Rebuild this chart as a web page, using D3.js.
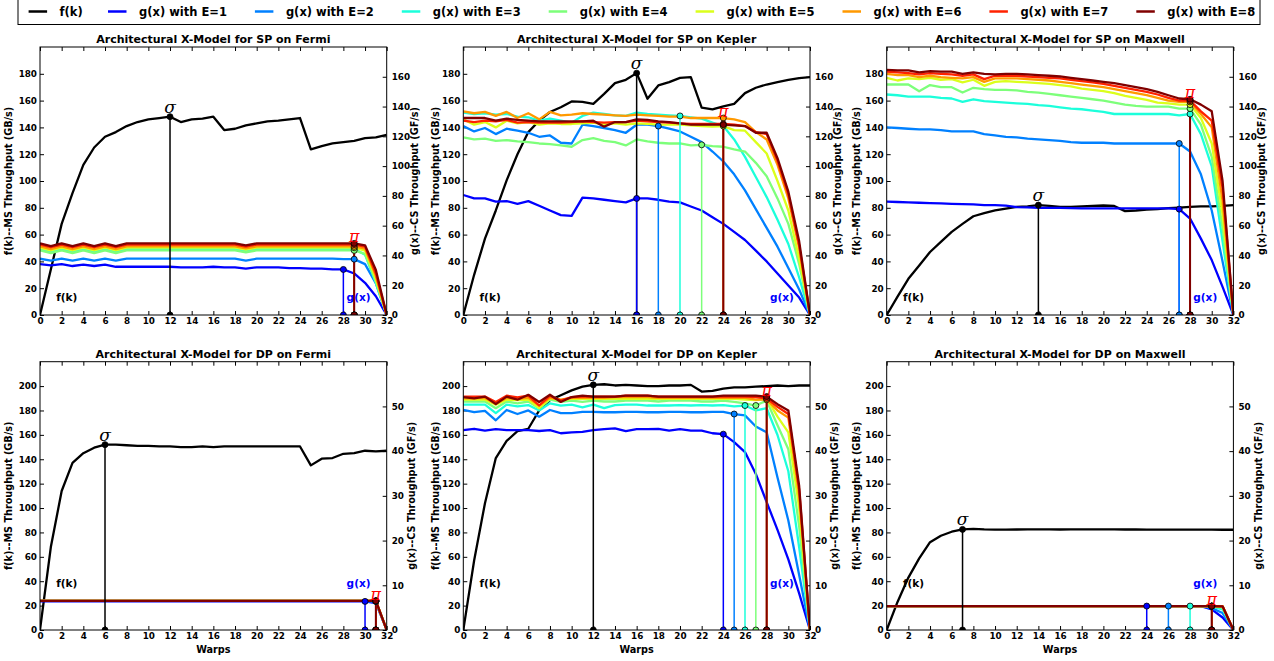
<!DOCTYPE html>
<html>
<head>
<meta charset="utf-8">
<script src="https://cdn.jsdelivr.net/npm/d3@7"></script>
<style>
  body { margin: 0; background: #fff; }
  text { font-family: "DejaVu Sans", sans-serif; font-weight: bold; }
  text.sym { font-family: "DejaVu Serif", serif; font-style: italic; font-weight: normal; }
</style>
</head>
<body>
<svg id="chart" width="1274" height="661"></svg>
<script>
// === Data ===
// x values (warps) shared by every curve
const warps = [0,1,2,3,4,5,6,7,8,9,10,11,12,13,14,15,16,17,18,19,20,21,22,23,24,25,26,27,28,29,30,31,32];
const xTicks = [0,2,4,6,8,10,12,14,16,18,20,22,24,26,28,30,32];
const seriesNames = ["g(x) with E=1","g(x) with E=2","g(x) with E=3","g(x) with E=4",
                     "g(x) with E=5","g(x) with E=6","g(x) with E=7","g(x) with E=8"];
const seriesColors = ["#0000ff","#0080ff","#1cffdb","#7dff7a","#dbff1c","#ff9900","#ff2200","#800000"];

// f(k) in GB/s (left axis), g(x) in GF/s (right axis)
const spFermiF = [0,34,68,91,112,125,133,136.5,141,144,146,147,148,144,146,146.5,148,138,139,141.5,143,144.5,145,146,147,123.6,126,128,129,130,132,132.5,134.5];
const spFermiG = [
  [34.2,33.3,34.2,32.9,33.8,32.9,33.8,32.4,32.4,32.4,32.4,32.4,32.4,32,32,32,32.4,32,32,31.1,32,32,32,31.5,31.5,31.1,31.1,30.6,30.6,27.9,21.6,12.6,0],
  [37.8,36.5,37.8,36.5,37.8,36.5,37.8,36.5,37.8,37.8,37.8,37.8,37.8,37.8,37.8,37.8,37.8,37.8,37.8,36.5,37.8,37.8,37.8,37.8,37.8,37.8,37.8,37.8,37.5,37.5,34.2,21.2,0],
  [44.3,42.5,44.3,42.5,44.3,42.5,44.3,42.5,44.3,44.3,44.3,44.3,44.3,44.3,44.3,44.3,44.3,44.3,44.3,43.0,44.3,44.3,44.3,44.3,44.3,44.3,44.3,44.3,44.3,44.3,40.5,21.6,0],
  [43.4,41.6,43.4,41.6,43.4,41.6,43.4,41.6,43.4,43.4,43.4,43.4,43.4,43.4,43.4,43.4,43.4,43.4,43.4,42.1,43.4,43.4,43.4,43.4,43.4,43.4,43.4,43.4,43.4,43.4,41.0,22.5,0],
  [45.2,43.4,45.2,43.4,45.2,43.4,45.2,43.4,45.2,45.2,45.2,45.2,45.2,45.2,45.2,45.2,45.2,45.2,45.2,43.9,45.2,45.2,45.2,45.2,45.2,45.2,45.2,45.2,45.2,45.2,43.2,24.3,0],
  [46.1,44.3,46.1,44.3,46.1,44.3,46.1,44.3,46.1,46.1,46.1,46.1,46.1,46.1,46.1,46.1,46.1,46.1,46.1,44.8,46.1,46.1,46.1,46.1,46.1,46.1,46.1,46.1,46.1,46.1,44.6,26.1,0],
  [47.3,45.5,47.3,45.5,47.3,45.5,47.3,45.5,47.3,47.3,47.3,47.3,47.3,47.3,47.3,47.3,47.3,47.3,47.3,46.0,47.3,47.3,47.3,47.3,47.3,47.3,47.3,47.3,47.3,47.3,45.9,27.9,0],
  [48.1,46.3,48.1,46.3,48.1,46.3,48.1,46.3,48.1,48.1,48.1,48.1,48.1,48.1,48.1,48.1,48.1,48.1,48.1,46.8,48.1,48.1,48.1,48.1,48.1,48.1,48.1,48.1,48.1,48.1,46.8,30.2,0]
];
const spFermiKnee = [28,29,29,29,29,29,29,29];
const spFermiSigma = 12;

const spKeplerF = [0,30,57,78,100.5,120,136.5,145,151.5,155,159.4,159,157.6,165,173,175.5,180.5,161.4,171.3,173.8,177,177.5,154.7,153.4,155.7,157.6,165.6,169.6,172,173.8,175.5,176.8,177.5];
const spKeplerG = [
  [80.6,78.3,78.3,76.1,76.5,74.7,76.5,73.4,70.2,67.1,66.6,78.8,78.3,77.4,76.5,75.6,78.3,78.3,77.4,76.1,75.6,72.9,70.2,65.7,61.2,55.8,50.4,43.2,36,27.9,19.8,11.7,0],
  [126.9,123.3,125.6,121.5,125.1,123.8,122.4,119.7,120.6,115.7,115.2,127.8,126.9,125.6,124.2,122.4,127.8,127.8,126.9,125.1,123.3,119.7,116.1,109.8,103.1,94.5,83.7,71.1,58.5,45.9,31.5,17.1,0],
  [135.9,135,135.5,134.6,135,133.2,132.8,130.5,131.9,130.5,129.2,133.7,135.9,135,134.1,133.7,135.9,135,134.6,134.1,133.7,132.8,131.9,129.2,126.9,117.9,106.2,92.7,79.2,63.9,47.7,25.2,0],
  [119.3,117.9,118.4,117,117.5,116.6,116.1,115.2,114.8,113.9,113,117.5,118.8,117,116.1,113.9,117.9,116.6,115.7,115.2,115.2,113.9,114.3,113.4,113,111.2,109.8,102.2,93.2,78.3,61.2,34.2,0],
  [131.4,127.8,129.6,126,130.5,128.7,129.6,127.8,128.7,128.3,128.3,128.7,129.2,127.8,128.7,127.8,128.7,128.3,127.8,127.8,127.8,127.4,126.9,126.5,126.9,124.2,123.8,116.1,108.5,90,70.2,37.8,0],
  [136.8,135.5,136.4,133.7,136.4,132.3,135.5,131.4,136.4,134.1,134.6,135.5,135,134.6,134.1,133.7,134.6,134.1,133.7,133.2,133.2,132.3,132.3,132.3,132.3,131.4,129.6,122.9,117.9,100.8,78.3,45,0],
  [130.5,129.6,130.5,130.1,131,129.2,129.6,129.2,129.2,129.2,129.6,130.1,129.6,129.2,129.6,129.6,130.5,130.1,129.6,129.2,128.7,128.3,128.3,128.3,128.3,127.8,126.9,122.9,121.5,103.5,81,46.8,0],
  [132.3,132.3,132.3,130.5,131.9,131,130.5,130.1,130.1,130.1,130.1,130.1,130.5,126.5,129.6,129.6,131.4,131,130.1,129.6,128.7,127.8,127.8,127.8,127.8,127.4,126.9,122.4,122.4,105.3,82.8,49.5,0]
];
const spKeplerKnee = [16,18,20,22,24,24,24,24];
const spKeplerSigma = 16;

const spMaxwellF = [0,13.7,27,37,47,54.6,62,68,73.7,76,78,79.4,80.7,81,82,81.4,80.7,80.7,81,81.4,81.7,81.4,77.5,78,78.7,79,79.7,80.2,80.7,81,81,81.4,82];
const spMaxwellG = [
  [76.1,75.9,75.6,75.4,75.2,75,74.7,74.5,74.3,73.8,73.8,73.4,72.5,72.3,72,72,72,71.8,71.6,71.6,71.6,71.6,71.6,71.6,71.6,71.6,71.6,71.1,64.8,51.3,36.9,18.9,0],
  [126,125.6,125.1,124.7,124.7,124.2,123.3,123.3,123.3,121.5,120.6,119.7,119.3,118.4,117.9,117.5,117,116.1,115.7,115.7,115.7,115.2,115.2,115.2,115.2,115.2,115.2,115.2,109.8,94.5,70.2,36,0],
  [148.1,147.6,146.7,146.7,146.7,145.8,145.4,143.1,144.9,143.6,143.1,142.7,142.2,141.8,140.9,140.4,139.5,138.6,138.2,137.3,136.4,135,135,135,135,135,135,134.1,135,121.5,99.9,49.5,0],
  [154.8,154.8,154.8,150.3,154.4,153,153,149.4,152.6,151.7,151.2,151.2,150.8,149.9,149.4,148.5,147.6,146.7,145.8,144.9,144,142.7,141.3,140.4,140,140,140,138.6,138.6,127.8,106.2,58.5,0],
  [159.3,157.5,158.9,158.4,159.3,158,158.4,156.2,158,153.9,156.6,157.1,156.6,156.2,155.7,155.3,154.4,153.5,152.1,151.2,150.3,149,147.2,145.8,144.5,142.7,142.2,141.3,141.3,132.3,115.2,67.5,0],
  [162,161.1,161.1,159.8,160.7,159.8,159.3,158.9,159.8,156.6,158.9,158.9,158.9,158.4,158,157.5,156.6,155.7,154.8,153.9,153,151.7,150.3,149,147.6,145.8,144,143.1,143.1,135,126,76.5,0],
  [163.4,162.9,162.5,161.6,162.5,162,161.6,160.7,161.6,158.4,160.7,160.7,160.7,160.2,159.8,159.3,158.9,158,157.1,156.2,155.3,153.9,152.6,151.2,149.9,148.1,145.8,144,144,136.8,130.5,85.5,0],
  [164.7,164.3,164.3,162.9,163.8,163.4,163.4,162,162.9,162,161.6,162,162,161.6,161.1,160.7,160.2,159.3,158.4,157.5,156.6,155.7,154.4,153,151.7,149.9,147.6,145.4,144.9,141.3,136.8,90,0]
];
const spMaxwellKnee = [27,27,28,28,28,28,28,28];
const spMaxwellSigma = 14;

const dpFermiF = [0,68,114,137,145,149.5,152,152,151.5,151,151,150.5,150.5,150,150,150.5,150,150.5,150.5,150.5,150.5,150.5,150.5,150.5,150.5,135,140.5,141,144.5,145,147,146.5,147];
const dpFermiG = [
  [6.4,6.4,6.4,6.4,6.4,6.4,6.4,6.4,6.4,6.4,6.4,6.4,6.4,6.4,6.4,6.4,6.4,6.4,6.4,6.4,6.4,6.4,6.4,6.4,6.4,6.4,6.4,6.4,6.4,6.4,6.4,6.0,0],
  [6.5,6.5,6.5,6.5,6.5,6.5,6.5,6.5,6.5,6.5,6.5,6.5,6.5,6.5,6.5,6.5,6.5,6.5,6.5,6.5,6.5,6.5,6.5,6.5,6.5,6.5,6.5,6.5,6.5,6.5,6.5,6.4,0],
  [6.5,6.5,6.5,6.5,6.5,6.5,6.5,6.5,6.5,6.5,6.5,6.5,6.5,6.5,6.5,6.5,6.5,6.5,6.5,6.5,6.5,6.5,6.5,6.5,6.5,6.5,6.5,6.5,6.5,6.5,6.5,6.4,0],
  [6.5,6.5,6.5,6.5,6.5,6.5,6.5,6.5,6.5,6.5,6.5,6.5,6.5,6.5,6.5,6.5,6.5,6.5,6.5,6.5,6.5,6.5,6.5,6.5,6.5,6.5,6.5,6.5,6.5,6.5,6.5,6.5,0],
  [6.5,6.5,6.5,6.5,6.5,6.5,6.5,6.5,6.5,6.5,6.5,6.5,6.5,6.5,6.5,6.5,6.5,6.5,6.5,6.5,6.5,6.5,6.5,6.5,6.5,6.5,6.5,6.5,6.5,6.5,6.5,6.5,0],
  [6.5,6.5,6.5,6.5,6.5,6.5,6.5,6.5,6.5,6.5,6.5,6.5,6.5,6.5,6.5,6.5,6.5,6.5,6.5,6.5,6.5,6.5,6.5,6.5,6.5,6.5,6.5,6.5,6.5,6.5,6.5,6.5,0],
  [6.5,6.5,6.5,6.5,6.5,6.5,6.5,6.5,6.5,6.5,6.5,6.5,6.5,6.5,6.5,6.5,6.5,6.5,6.5,6.5,6.5,6.5,6.5,6.5,6.5,6.5,6.5,6.5,6.5,6.5,6.5,6.5,0],
  [6.5,6.5,6.5,6.5,6.5,6.5,6.5,6.5,6.5,6.5,6.5,6.5,6.5,6.5,6.5,6.5,6.5,6.5,6.5,6.5,6.5,6.5,6.5,6.5,6.5,6.5,6.5,6.5,6.5,6.5,6.5,6.5,0]
];
const dpFermiKnee = [30,31,31,31,31,31,31,31];
const dpFermiSigma = 6;

const dpKeplerF = [0,57,104,141,155,163,165,180,188.5,192.5,196.5,199.5,201,201.5,200.5,201,200.5,200,200,200.5,200.5,201,195.5,196,198,199,199,199.5,200,200.5,200,200.5,200.5];
const dpKeplerG = [
  [44.7,45,44.6,44.9,44.7,44.7,44.7,44.5,44.7,44,44.2,44.3,44.7,44.9,45.1,44.5,44.9,44.9,45,44.6,44.9,44.6,44.6,44,43.8,42,39.8,34.9,28.6,22.4,15.8,8.2,0],
  [49.2,48.7,49,46.9,49.2,48.3,49.1,47.7,49.2,48.5,48.5,48.8,48.8,48.7,48.7,48.8,48.8,48.7,48.7,48.8,48.8,48.7,48.7,48.8,48.8,48.3,48,45.5,44.2,34.1,24.5,12.3,0],
  [50.4,50.4,50.4,48.5,50.4,50,50.3,49.1,50.7,50.2,50.4,49.8,50.4,49.6,50.3,50.4,50.4,50.2,50.2,50.2,50.3,50.2,50.3,50.2,50.3,50,50.2,49.1,49.6,43.6,35.5,18.5,0],
  [51.1,51.1,51.1,49.6,51.1,50.7,51.1,49.6,51.5,51,51.3,51,51.3,51.1,51.1,51.3,51.3,51.3,51.1,51.3,51.3,51.3,51.1,51.1,51.3,51,50.7,50.2,51.3,45.8,40.4,23.2,0],
  [51.5,51.5,51.5,50.4,51.5,51.4,51.5,49.6,51.8,51.4,51.7,51.7,51.7,51.7,51.7,51.7,51.7,51.7,51.7,51.7,51.7,51.7,51.7,51.7,51.7,51.7,51.5,51.4,51.8,47.7,44.2,27.3,0],
  [51.8,51.8,51.9,50.6,51.9,51.7,51.9,50.2,51.9,51.5,51.9,51.9,51.9,51.9,52.1,52.1,52.1,52.1,51.9,51.9,51.9,51.9,51.9,51.9,51.9,51.9,51.9,51.5,51.5,49.1,47.5,30,0],
  [52.2,52.2,52.2,51,52.4,52,52.4,50.2,52.4,51.3,52.1,52.2,52.2,52.2,52.2,52.4,52.4,52.4,52.2,52.2,52.2,52.2,52.2,52.2,52.2,52.2,52.2,52.1,51.8,49.9,48.3,31.4,0],
  [52.1,51.8,52.2,50.5,52.2,51.5,52.6,51,52.6,51,52.1,52.4,52.2,52.2,52.2,52.4,52.4,52.4,52.2,52.2,52.2,52.2,52.2,52.2,52.4,52.4,52.4,52.4,52.2,50.5,49.1,32.2,0]
];
const dpKeplerKnee = [24,25,26,27,28,28,28,28];
const dpKeplerSigma = 12;

const dpMaxwellF = [0,23,43,58.7,72,77.3,80.6,82.5,83,82.5,82.3,82.3,82.4,82.5,82.5,82.5,82.4,82.5,82.5,82.5,82.5,82.5,82.4,82.4,82.3,82.3,82.3,82.3,82.3,82.3,82.3,82.2,82.2];
const dpMaxwellG = [
  [5.35,5.35,5.35,5.35,5.35,5.35,5.35,5.35,5.35,5.35,5.35,5.35,5.35,5.35,5.35,5.35,5.35,5.35,5.35,5.35,5.35,5.35,5.35,5.35,5.35,5.35,5.35,5.35,5.35,5.35,4.6,2.8,0],
  [5.35,5.35,5.35,5.35,5.35,5.35,5.35,5.35,5.35,5.35,5.35,5.35,5.35,5.35,5.35,5.35,5.35,5.35,5.35,5.35,5.35,5.35,5.35,5.35,5.35,5.35,5.35,5.35,5.35,5.35,4.9,3.8,0],
  [5.35,5.35,5.35,5.35,5.35,5.35,5.35,5.35,5.35,5.35,5.35,5.35,5.35,5.35,5.35,5.35,5.35,5.35,5.35,5.35,5.35,5.35,5.35,5.35,5.35,5.35,5.35,5.35,5.35,5.35,5.2,4.6,0],
  [5.35,5.35,5.35,5.35,5.35,5.35,5.35,5.35,5.35,5.35,5.35,5.35,5.35,5.35,5.35,5.35,5.35,5.35,5.35,5.35,5.35,5.35,5.35,5.35,5.35,5.35,5.35,5.35,5.35,5.35,5.3,5.0,0],
  [5.35,5.35,5.35,5.35,5.35,5.35,5.35,5.35,5.35,5.35,5.35,5.35,5.35,5.35,5.35,5.35,5.35,5.35,5.35,5.35,5.35,5.35,5.35,5.35,5.35,5.35,5.35,5.35,5.35,5.35,5.35,5.3,0],
  [5.35,5.35,5.35,5.35,5.35,5.35,5.35,5.35,5.35,5.35,5.35,5.35,5.35,5.35,5.35,5.35,5.35,5.35,5.35,5.35,5.35,5.35,5.35,5.35,5.35,5.35,5.35,5.35,5.35,5.35,5.35,5.3,0],
  [5.35,5.35,5.35,5.35,5.35,5.35,5.35,5.35,5.35,5.35,5.35,5.35,5.35,5.35,5.35,5.35,5.35,5.35,5.35,5.35,5.35,5.35,5.35,5.35,5.35,5.35,5.35,5.35,5.35,5.35,5.35,5.3,0],
  [5.35,5.35,5.35,5.35,5.35,5.35,5.35,5.35,5.35,5.35,5.35,5.35,5.35,5.35,5.35,5.35,5.35,5.35,5.35,5.35,5.35,5.35,5.35,5.35,5.35,5.35,5.35,5.35,5.35,5.35,5.35,5.3,0]
];
const dpMaxwellKnee = [24,26,28,30,30,30,30,30];
const dpMaxwellSigma = 7;

// axis ranges and ticks per row (0 = SP, 1 = DP)
const leftMax = [200, 220];
const rightMax = [180, 60];
const leftTicks = [[0,20,40,60,80,100,120,140,160,180], [0,20,40,60,80,100,120,140,160,180,200]];
const rightTicks = [[0,20,40,60,80,100,120,140,160], [0,10,20,30,40,50]];

// === Layout ===
const colX = [40, 463.3, 886.7];
const plotW = 346.7;
const rowTop = [47, 361.7];
const rowBottom = [315, 630];
const leftLabelOff = [31, 28, 30];

const panels = [
  { title: "Architectural X-Model for SP on Fermi",   row: 0, col: 0, f: spFermiF,   g: spFermiG,   knee: spFermiKnee,   sigma: spFermiSigma },
  { title: "Architectural X-Model for SP on Kepler",  row: 0, col: 1, f: spKeplerF,  g: spKeplerG,  knee: spKeplerKnee,  sigma: spKeplerSigma },
  { title: "Architectural X-Model for SP on Maxwell", row: 0, col: 2, f: spMaxwellF, g: spMaxwellG, knee: spMaxwellKnee, sigma: spMaxwellSigma },
  { title: "Architectural X-Model for DP on Fermi",   row: 1, col: 0, f: dpFermiF,   g: dpFermiG,   knee: dpFermiKnee,   sigma: dpFermiSigma },
  { title: "Architectural X-Model for DP on Kepler",  row: 1, col: 1, f: dpKeplerF,  g: dpKeplerG,  knee: dpKeplerKnee,  sigma: dpKeplerSigma },
  { title: "Architectural X-Model for DP on Maxwell", row: 1, col: 2, f: dpMaxwellF, g: dpMaxwellG, knee: dpMaxwellKnee, sigma: dpMaxwellSigma }
];

const svg = d3.select("#chart");

// === Legend ===
const legend = svg.append("g");
legend.append("rect")
  .attr("x", 18).attr("y", -1).attr("width", 1242).attr("height", 25.5)
  .attr("fill", "#fff").attr("stroke", "#000").attr("stroke-width", 1);
const legendItems = [{ name: "f(k)", color: "#000", x: 28.6 }]
  .concat(seriesNames.map((n, i) => ({ name: n, color: seriesColors[i], x: 108 + i * 146.9 })));
legendItems.forEach(it => {
  legend.append("line")
    .attr("x1", it.x).attr("x2", it.x + 18.5).attr("y1", 11.5).attr("y2", 11.5)
    .attr("stroke", it.color).attr("stroke-width", 2.5);
  legend.append("text")
    .attr("x", it.x + 31).attr("y", 15.6)
    .attr("font-size", 11.5).text(it.name);
});

// === Panels ===
function drawPanel(p, idx) {
  const x0 = colX[p.col];
  const y0 = rowTop[p.row];
  const h = rowBottom[p.row] - rowTop[p.row];
  const w = plotW;

  const x = d3.scaleLinear().domain([0, 32]).range([0, w]);
  const yL = d3.scaleLinear().domain([0, leftMax[p.row]]).range([h, 0]);
  const yR = d3.scaleLinear().domain([0, rightMax[p.row]]).range([h, 0]);

  const g = svg.append("g").attr("transform", `translate(${x0},${y0})`);

  g.append("clipPath").attr("id", "clip" + idx)
    .append("rect").attr("width", w).attr("height", h);

  // title
  g.append("text")
    .attr("x", w / 2).attr("y", -4)
    .attr("text-anchor", "middle").attr("font-size", 11)
    .text(p.title);

  // axes (inward ticks)
  const tickFont = 8.8;
  const ax = g.append("g").attr("class", "axes");
  ax.append("g").attr("transform", `translate(0,${h})`)
    .call(d3.axisBottom(x).tickValues(xTicks).tickSize(-4).tickPadding(3));
  ax.append("g")
    .call(d3.axisTop(x).tickValues(xTicks).tickSize(-4).tickFormat(""));
  ax.append("g")
    .call(d3.axisLeft(yL).tickValues(leftTicks[p.row]).tickSize(-4).tickPadding(3));
  ax.append("g").attr("transform", `translate(${w},0)`)
    .call(d3.axisRight(yR).tickValues(rightTicks[p.row]).tickSize(-4).tickPadding(5));
  ax.selectAll(".domain").remove();
  ax.selectAll(".tick line").attr("stroke", "#000").attr("stroke-width", 1);
  ax.selectAll(".tick text")
    .attr("font-size", tickFont).attr("fill", "#000");

  // axis labels
  g.append("text")
    .attr("transform", `translate(${-leftLabelOff[p.col]},${h / 2}) rotate(-90)`)
    .attr("text-anchor", "middle").attr("dy", "0.35em").attr("font-size", 9.7)
    .text("f(k)--MS Throughput (GB/s)");
  g.append("text")
    .attr("transform", `translate(${w + (p.row ? 25 : 28)},${h / 2}) rotate(-90)`)
    .attr("text-anchor", "middle").attr("dy", "0.35em").attr("font-size", 9.7)
    .text("g(x)--CS Throughput (GF/s)");
  if (p.row === 1) {
    g.append("text")
      .attr("x", w / 2).attr("y", h + 23)
      .attr("text-anchor", "middle").attr("font-size", 9.7)
      .text("Warps");
  }

  const plot = g.append("g").attr("clip-path", `url(#clip${idx})`);

  // f(k)
  const lineL = d3.line().x((d, i) => x(warps[i])).y(d => yL(d));
  const lineR = d3.line().x((d, i) => x(warps[i])).y(d => yR(d));
  plot.append("path").datum(p.f)
    .attr("d", lineL).attr("fill", "none")
    .attr("stroke", "#000").attr("stroke-width", 2.3).attr("stroke-linejoin", "round");

  // g(x) for each E
  p.g.forEach((s, i) => {
    plot.append("path").datum(s)
      .attr("d", lineR).attr("fill", "none")
      .attr("stroke", seriesColors[i]).attr("stroke-width", 2.3).attr("stroke-linejoin", "round");
  });

  // sigma stem
  const sx = x(warps[p.sigma]);
  const sy = yL(p.f[p.sigma]);
  plot.append("line")
    .attr("x1", sx).attr("x2", sx).attr("y1", yL(0)).attr("y2", sy)
    .attr("stroke", "#000").attr("stroke-width", 1.5);

  // knee stems
  p.g.forEach((s, i) => {
    const kx = x(warps[p.knee[i]]);
    plot.append("line")
      .attr("x1", kx).attr("x2", kx).attr("y1", yR(0)).attr("y2", yR(s[p.knee[i]]))
      .attr("stroke", seriesColors[i]).attr("stroke-width", i === 7 ? 2 : 1.5);
  });

  // markers
  [sy, yL(0)].forEach(cy => {
    plot.append("circle").attr("cx", sx).attr("cy", cy).attr("r", 3)
      .attr("fill", "#000").attr("stroke", "#000").attr("stroke-width", 0.8);
  });
  p.g.forEach((s, i) => {
    const kx = x(warps[p.knee[i]]);
    [yR(s[p.knee[i]]), yR(0)].forEach(cy => {
      plot.append("circle").attr("cx", kx).attr("cy", cy).attr("r", 3)
        .attr("fill", seriesColors[i]).attr("stroke", "#000").attr("stroke-width", 0.8);
    });
  });

  // sigma and pi symbols
  g.append("text").attr("class", "sym")
    .attr("x", sx).attr("y", sy - 4)
    .attr("text-anchor", "middle")
    .attr("font-size", 17).text("σ");
  const k8 = p.knee[7];
  const piVal = d3.max(p.g, s => s[k8]);
  g.append("text").attr("class", "sym")
    .attr("x", x(warps[k8])).attr("y", yR(piVal) - 1)
    .attr("text-anchor", "middle").attr("fill", "#ff0000")
    .attr("font-size", 16).text("π");

  // curve labels
  const labelY = p.row ? 35.6 : 10.8;
  g.append("text")
    .attr("x", x(1.5)).attr("y", yL(labelY))
    .attr("font-size", 10.5).attr("fill", "#000").text("f(k)");
  g.append("text")
    .attr("x", x(28.3)).attr("y", yL(labelY))
    .attr("font-size", 10.5).attr("fill", "#0000ff").text("g(x)");

  // frame
  g.append("rect")
    .attr("width", w).attr("height", h)
    .attr("fill", "none").attr("stroke", "#000").attr("stroke-width", 1);
}

panels.forEach(drawPanel);
</script>
</body>
</html>
